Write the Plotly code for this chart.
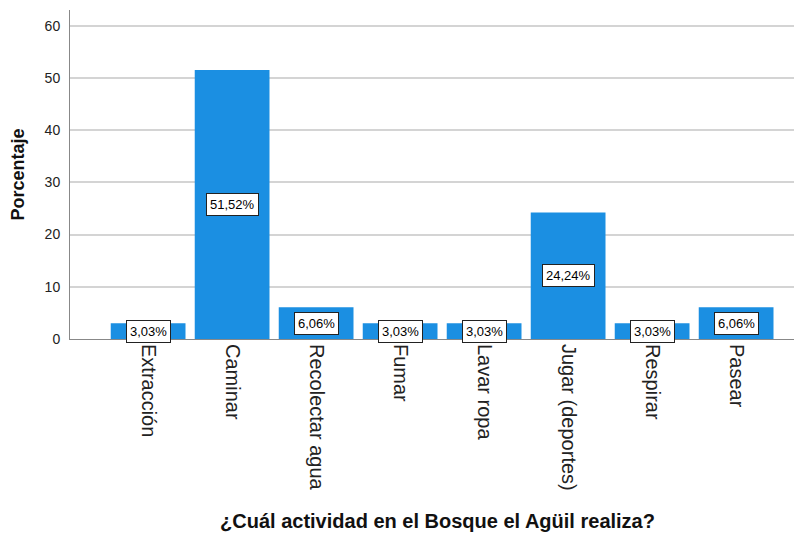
import plotly.graph_objects as go

categorias = ["Extracción", "Caminar", "Recolectar agua", "Fumar", "Lavar ropa",
              "Jugar (deportes)", "Respirar", "Pasear"]
porcentajes = [3.03, 51.52, 6.06, 3.03, 3.03, 24.24, 3.03, 6.06]
etiquetas = ["3,03%", "51,52%", "6,06%", "3,03%", "3,03%", "24,24%", "3,03%", "6,06%"]

FONT = "Arial, Liberation Sans, sans-serif"

fig = go.Figure()
fig.add_trace(
    go.Bar(
        x=list(range(len(categorias))),
        y=porcentajes,
        marker=dict(color="#1b8fe2", line=dict(width=0)),
        width=0.89,
        hoverinfo="skip",
    )
)

for i, (v, t) in enumerate(zip(porcentajes, etiquetas)):
    fig.add_annotation(
        x=i, y=v / 2, text=t, showarrow=False,
        font=dict(family=FONT, size=13, color="black"),
        bgcolor="white", bordercolor="#222", borderwidth=1, borderpad=3,
    )

fig.update_layout(
    width=802, height=533,
    margin=dict(l=62, r=5, t=2, b=202, autoexpand=False),
    plot_bgcolor="white", paper_bgcolor="white",
    showlegend=False,
    font=dict(family=FONT, color="#222"),
    xaxis=dict(
        range=[-0.93, 7.82],
        tickmode="array",
        tickvals=list(range(len(categorias))),
        ticktext=categorias,
        tickangle=90,
        tickfont=dict(size=20, color="#222"),
        showgrid=False, zeroline=False,
        showline=True, linecolor="#888", linewidth=1,
        ticks="", automargin=False,
        title=dict(text="<b>¿Cuál actividad en el Bosque el Agüil realiza?</b>",
                   font=dict(size=20, color="#111"), standoff=24),
    ),
    yaxis=dict(
        range=[0, 63],
        dtick=10,
        tickfont=dict(size=14, color="#222"),
        showgrid=True, gridcolor="#d4d4d4", gridwidth=1.5,
        zeroline=False,
        showline=True, linecolor="#888", linewidth=1,
        ticks="", ticklabelstandoff=6, automargin=False,
        title=dict(text="<b>Porcentaje</b>", font=dict(size=18, color="#111"),
                   standoff=18),
    ),
)

fig.write_html("out.html")
